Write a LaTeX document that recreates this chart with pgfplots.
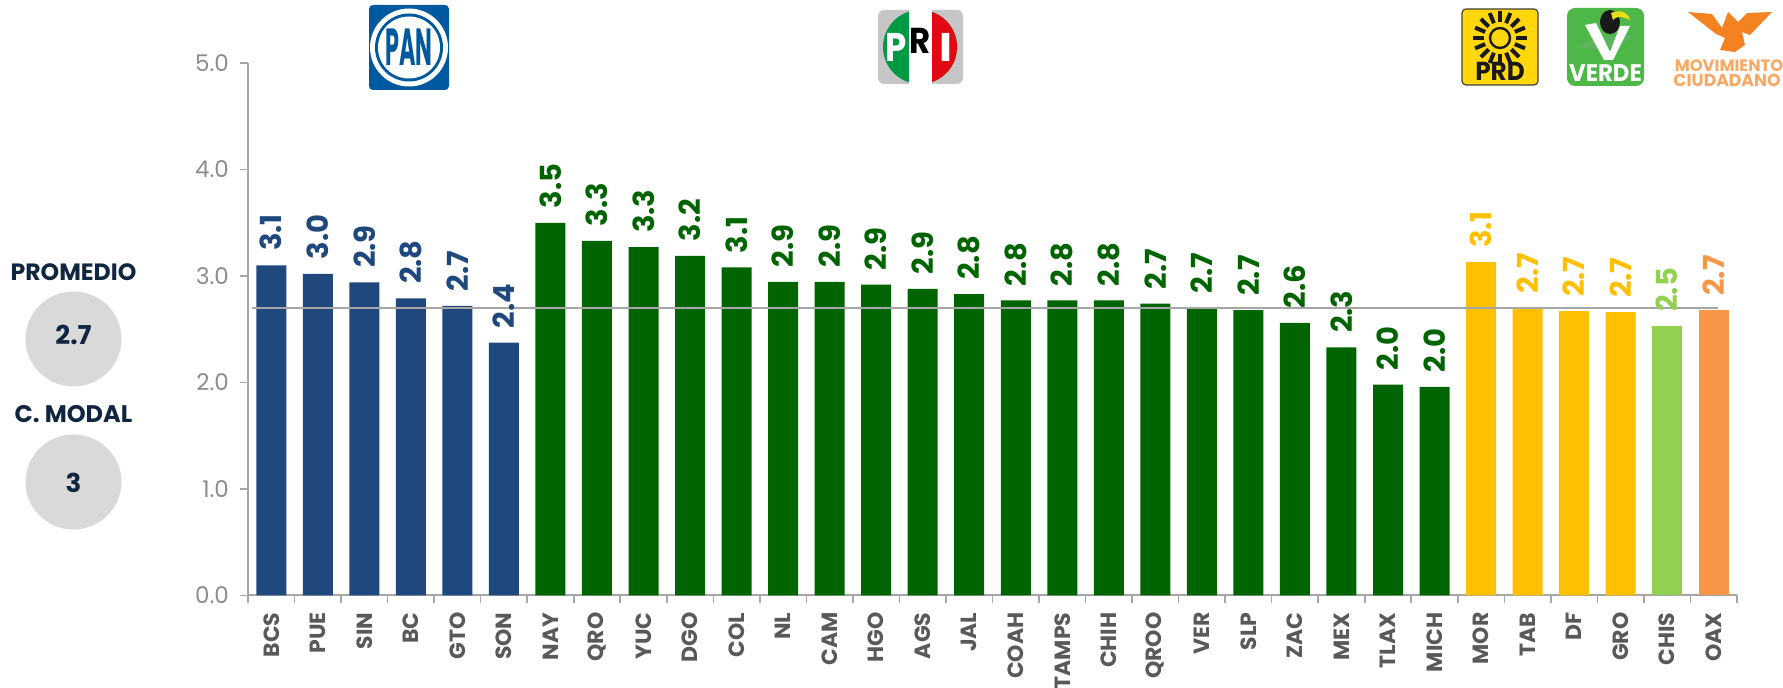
\documentclass[border=0pt]{standalone}
\usepackage{fontspec}
\setmainfont{Poppins}
\usepackage{pgfplots}
\usepackage{pgfplotstable}
\pgfplotsset{compat=1.18}
\definecolor{cblue}{HTML}{1F497D}
\definecolor{cgreen}{HTML}{006400}
\definecolor{cyellow}{HTML}{FFC000}
\definecolor{clime}{HTML}{92D050}
\definecolor{corange}{HTML}{F79646}
\definecolor{axisgray}{HTML}{A6A6A6}
\definecolor{tickgray}{HTML}{8C8C8C}
\definecolor{catgray}{HTML}{595959}
\definecolor{navy}{HTML}{0F2540}
\definecolor{panblue}{HTML}{00589F}
\definecolor{prigreen}{HTML}{009A44}
\definecolor{prired}{HTML}{E30613}
\definecolor{prdy}{HTML}{FFD70A}
\definecolor{vgreen}{HTML}{4DB848}
\definecolor{mcor}{HTML}{F58220}
\pgfplotstableread{
x y
0 3.10
1 3.02
2 2.94
3 2.79
4 2.72
5 2.374
}\tpan
\pgfplotstableread{
x y
6 3.50
7 3.33
8 3.27
9 3.19
10 3.08
11 2.945
12 2.945
13 2.92
14 2.88
15 2.83
16 2.77
17 2.77
18 2.77
19 2.74
20 2.70
21 2.68
22 2.56
23 2.33
24 1.98
25 1.96
}\tpri
\pgfplotstableread{
x y
26 3.13
27 2.70
28 2.67
29 2.66
}\tprd
\pgfplotstableread{
x y
30 2.53
}\tver
\pgfplotstableread{
x y
31 2.68
}\tmc
\begin{document}
\begin{tikzpicture}
\useasboundingbox (0,0) rectangle (891.5pt,-344pt);
\begin{axis}[
  at={(124pt,-297.75pt)}, anchor=south west,
  scale only axis, width=744.5pt, height=266.25pt,
  xmin=-0.5, xmax=31.5, ymin=0, ymax=5,
  axis lines=left, axis line style={draw=axisgray, line width=1pt, -},
  ybar, bar width=15pt, bar shift=0pt,
  xtick={0,...,31},
  xticklabels={BCS,PUE,SIN,BC,GTO,SON,NAY,QRO,YUC,DGO,COL,NL,CAM,HGO,AGS,JAL,COAH,TAMPS,CHIH,QROO,VER,SLP,ZAC,MEX,TLAX,MICH,MOR,TAB,DF,GRO,CHIS,OAX},
  x tick label style={rotate=90, anchor=east, font=\fontsize{11}{12}\selectfont\bfseries, text=catgray, xshift=-1pt},
  minor xtick={-0.5,0.5,...,31.5},
  major x tick style={draw=none},
  minor x tick style={draw=axisgray, line width=0.8pt},
  minor tick length=4pt,
  ytick={0,1,2,3,4,5},
  yticklabel style={font=\fontsize{11.5}{13}\selectfont, text=tickgray, xshift=-2pt},
  y tick style={draw=axisgray, line width=0.8pt},
  major tick length=4pt,
  tick align=outside,
  tick pos=left,
  /pgf/number format/assume math mode=true,
  yticklabel={\pgfmathprintnumber[fixed,fixed zerofill,precision=1,assume math mode=true]{\tick}},
  nodes near coords={\pgfmathprintnumber[fixed,fixed zerofill,precision=1,assume math mode=true]{\pgfplotspointmeta}},
  nodes near coords style={rotate=90, anchor=west, font=\fontsize{14.5}{16}\selectfont\bfseries, xshift=7pt, inner sep=0pt},
  clip=false,
]
\addplot[fill=cblue, draw=none, text=cblue] table {\tpan};
\addplot[fill=cgreen, draw=none, text=cgreen] table {\tpri};
\addplot[fill=cyellow, draw=none, text=cyellow] table {\tprd};
\addplot[fill=clime, draw=none, text=clime] table {\tver};
\addplot[fill=corange, draw=none, text=corange] table {\tmc};
\addplot[sharp plot, draw=axisgray, line width=1pt, nodes near coords={}, forget plot] coordinates {(-0.41,2.7) (31.1,2.7)};
\end{axis}
\begin{scope}[x=0.5pt,y=-0.5pt]
% left panels
\node[font=\fontsize{11.8}{13}\selectfont\bfseries, text=navy] at (73.5,272) {PROMEDIO};
\fill[gray!30] (73.5,339) ellipse (48 and 47.5);
\node[font=\fontsize{13}{14}\selectfont\bfseries, text=navy] at (73.5,335) {2.7};
\node[font=\fontsize{12}{13}\selectfont\bfseries, text=navy] at (73.5,414.5) {C. MODAL};
\fill[gray!30] (73.5,482) ellipse (48 and 47.5);
\node[font=\fontsize{13}{14}\selectfont\bfseries, text=navy] at (73.5,483) {3};
% PAN
\fill[panblue, rounded corners=2pt] (369,5) rectangle (449,90);
\fill[white] (409,47.5) circle (39);
\fill[panblue] (409,47.5) circle (34);
\fill[white] (409,47.5) circle (31);
\node[font=\fontsize{18}{18}\selectfont\bfseries, text=panblue, xscale=0.62, yscale=1.45] at (409,47.5) {PAN};
% PRI
\fill[gray!45, rounded corners=3pt] (878,10) rectangle (963,84);
\fill[prigreen] (920,47) circle (37);
\begin{scope}
\clip (920,0) rectangle (970,100);
\fill[prired] (920,47) circle (37);
\end{scope}
\fill[white] (909,5) rectangle (932,90);
\node[font=\fontsize{20}{20}\selectfont\bfseries, text=white, xscale=0.85] at (896,47) {P};
\node[font=\fontsize{18}{18}\selectfont\bfseries, text=black, xscale=0.9] at (920.5,41) {R};
\node[font=\fontsize{20}{20}\selectfont\bfseries, text=white, xscale=1.1] at (946,47) {I};
% PRD
\fill[prdy, draw=black!75, line width=0.6pt, rounded corners=2pt] (1462,9) rectangle (1538,85);
\foreach \a in {0,22.5,...,337.5}{
  \draw[black!90, line width=2pt] (1500,38)++(\a:16) -- ++(\a:11);
}
\draw[black!90, line width=1.2pt] (1500,38) circle (10);
\node[font=\fontsize{13}{13}\selectfont\bfseries, text=black!90, xscale=0.95] at (1500,71) {PRD};
% VERDE
\fill[vgreen, rounded corners=4pt] (1567,8) rectangle (1644,86);
\fill[green!50!black!60!white, opacity=0.7] (1576,47) .. controls (1600,35) and (1620,34) .. (1634,35) .. controls (1625,45) and (1600,52) .. (1576,47);
\fill[white] (1585,25) -- (1596,23) -- (1610,52) -- (1620,26) -- (1630,26) -- (1613,60) -- (1604,60) -- cycle;
\fill[black!90] (1610,22) ellipse (10 and 12);
\fill[yellow!90!black] (1611,13) .. controls (1620,9) and (1628,12) .. (1630,20) .. controls (1622,16) and (1616,16) .. (1613,20) -- cycle;
\node[font=\fontsize{12}{12}\selectfont\bfseries, text=white, xscale=0.95] at (1605.5,73) {VERDE};
% MC
\fill[mcor] (1688,12) -- (1712,14) -- (1722,28) -- (1728,12) -- (1738,22) -- (1747,13) -- (1772,12) -- (1750,35) -- (1742,32) -- (1745,45) -- (1735,52) -- (1720,50) -- (1725,38) -- (1716,34) -- cycle;
\node[font=\fontsize{8.2}{8}\selectfont\bfseries, text=mcor!70] at (1729,66) {MOVIMIENTO};
\node[font=\fontsize{8.6}{8}\selectfont\bfseries, text=mcor!70] at (1727,80) {CIUDADANO};
\end{scope}
\end{tikzpicture}
\end{document}
